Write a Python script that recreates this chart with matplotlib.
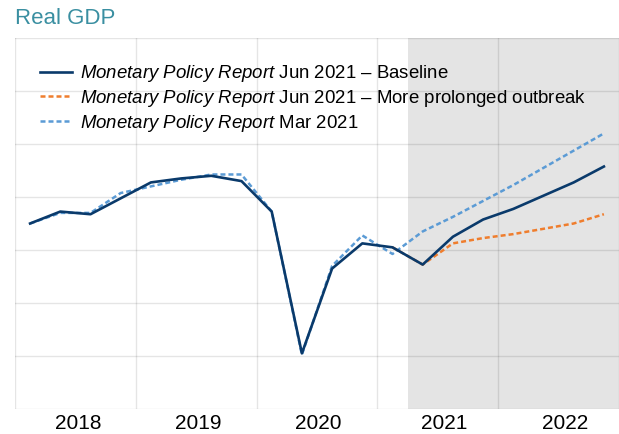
import numpy as np
import matplotlib.pyplot as plt
from matplotlib.lines import Line2D

plt.rcParams['font.family'] = ['Liberation Sans', 'DejaVu Sans']
plt.rcParams['mathtext.fontset'] = 'custom'
plt.rcParams['mathtext.rm'] = 'Liberation Sans'
plt.rcParams['mathtext.it'] = 'Liberation Sans:italic'

# 季度数据 2018Q1 - 2022Q4
quarters = [f'{y}Q{q}' for y in range(2018, 2023) for q in range(1, 5)]
baseline = [98.0, 98.9, 98.7, 99.9, 101.1, 101.4, 101.6, 101.2, 98.9, 88.2,
            94.6, 96.5, 96.2, 94.9, 97.0, 98.3, 99.1, 100.1, 101.1, 102.3]
# 更长疫情情景，从2021Q1开始
prolonged = [96.2, 94.9, 96.5, 96.9, 97.2, 97.6, 98.0, 98.7]
mar2021 = [98.0, 98.8, 98.8, 100.3, 100.8, 101.3, 101.7, 101.7, 98.9, 88.1,
           94.8, 97.1, 95.7, 97.4, 98.5, 99.7, 100.9, 102.2, 103.5, 104.8]
years = ['2018', '2019', '2020', '2021', '2022']
forecast_start = '2021Q2'

# 季度中点作为x坐标
x = np.array([int(s[:4]) + (int(s[-1]) - 0.5) / 4 for s in quarters])
x_pro = x[quarters.index('2021Q1'):]
fc = int(forecast_start[:4]) + (int(forecast_start[-1]) - 1) / 4

navy = '#0a3a6b'
orange = '#ef7d2d'
lblue = '#5b9bd5'
dash = (0, (2.0, 1.2))

fig = plt.figure(figsize=(6.19, 4.34), dpi=100)
ax = fig.add_axes([15/619, 25/434, 604/619, 371/434])
ax.set_xlim(2018, 2018 + 604/121.7)
ax.set_ylim(84, 112)

ax.axvspan(fc, 2030, color='#e4e4e4', zorder=0, lw=0)

ax.set_yticks(np.arange(84, 113, 4))
ax.set_yticklabels([])
ax.set_xticks(np.arange(2018, 2024), minor=True)
ax.set_xticks([2018.52, 2019.52, 2020.51, 2021.555, 2022.55])
ax.set_xticklabels(years, fontsize=15)
ax.tick_params(axis='both', which='both', length=0)
ax.tick_params(axis='x', pad=3.6)
ax.grid(axis='y', which='major', color='black', alpha=0.1, lw=1, zorder=1)
ax.grid(axis='x', which='minor', color='black', alpha=0.1, lw=1, zorder=1)
for s in ax.spines.values():
    s.set_visible(False)

ax.plot(x, mar2021, color=lblue, lw=1.8, ls=dash, zorder=3)
ax.plot(x_pro, prolonged, color=orange, lw=1.8, ls=dash, zorder=3)
ax.plot(x, baseline, color=navy, lw=1.9, zorder=4)

mpr = r'$\mathit{Monetary\ Policy\ Report}$'
handles = [Line2D([], [], color=navy, lw=1.9),
           Line2D([], [], color=orange, lw=1.8, ls=dash),
           Line2D([], [], color=lblue, lw=1.8, ls=dash)]
labels = [mpr + ' Jun 2021 – Baseline',
          mpr + ' Jun 2021 – More prolonged outbreak',
          mpr + ' Mar 2021']
ax.legend(handles, labels, loc='upper left', bbox_to_anchor=(0.041, 0.932),
          frameon=False, fontsize=13.4, handlelength=1.72, handletextpad=0.43,
          labelspacing=0.2, borderpad=0, borderaxespad=0)

fig.text(15/619, 1 - 18/434, 'Real GDP', color='#3a8fa1', fontsize=16,
         va='center', ha='left')

fig.savefig('out.png', dpi=100)
